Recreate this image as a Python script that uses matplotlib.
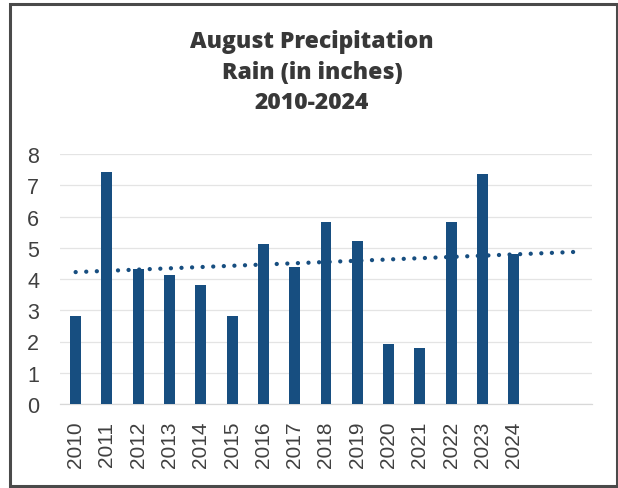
import numpy as np
import matplotlib
matplotlib.use("Agg")
import matplotlib.pyplot as plt
from matplotlib.patches import Rectangle

# August rainfall totals (inches)
years = ["2010", "2011", "2012", "2013", "2014", "2015", "2016", "2017",
         "2018", "2019", "2020", "2021", "2022", "2023", "2024"]
rain = [2.83, 7.44, 4.32, 4.13, 3.81, 2.81, 5.11, 4.37,
        5.83, 5.22, 1.92, 1.78, 5.83, 7.36, 4.80]
extra_slots = 2          # empty category slots after the last year
y_ticks = [0, 1, 2, 3, 4, 5, 6, 7, 8]
title_lines = ["August Precipitation", "Rain (in inches)", "2010-2024"]

bar_color = "#174e80"
title_color = "#383838"
label_color = "#404040"

fig = plt.figure(figsize=(6.18, 4.89), dpi=100)
ax = fig.add_axes([60 / 618, 1 - 405 / 489, 532 / 618, 250 / 489])

x = np.arange(len(years))
ax.bar(x, rain, width=0.35, color=bar_color, zorder=3)

# linear trendline, projected forward over the empty slots
slope, intercept = np.polyfit(x, rain, 1)
xt = np.linspace(0, len(years) - 1 + extra_slots, 200)
ax.plot(xt, slope * xt + intercept, color=bar_color, lw=3.1,
        linestyle=(0, (0.01, 2.45)), dash_capstyle="round", zorder=4)

n_slots = len(years) + extra_slots
ax.set_xlim(-0.5, n_slots - 0.5)
ax.set_ylim(0, 8)
ax.set_yticks(y_ticks)
ax.set_xticks(np.arange(n_slots))
ax.set_xticklabels(years + [""] * extra_slots, rotation=90,
                   fontsize=15, family="Liberation Sans", color=label_color)
ax.set_yticklabels([str(t) for t in y_ticks], fontsize=15.5,
                   family="Liberation Sans", color=label_color)
ax.tick_params(axis="both", length=0)
ax.tick_params(axis="y", pad=15)
ax.tick_params(axis="x", pad=12)
ax.grid(axis="y", color="#e4e4e4", lw=0.9, zorder=0)
for s in ["top", "right", "left"]:
    ax.spines[s].set_visible(False)
ax.spines["bottom"].set_color("#d8d8d8")
ax.spines["bottom"].set_linewidth(0.9)

for i, (line, yy) in enumerate(zip(title_lines, [42, 73, 103])):
    fig.text(312 / 618, 1 - yy / 489, line, ha="center", va="center",
             fontsize=16.5, fontweight="heavy", family="Open Sans",
             color=title_color)

# outer frame
fig.patches.append(Rectangle((9.5 / 618, 2 / 489), 607 / 618, 482 / 489,
                             transform=fig.transFigure, fill=False,
                             edgecolor="#4a4a4a", lw=2.2))

fig.savefig("out.png", dpi=100)
